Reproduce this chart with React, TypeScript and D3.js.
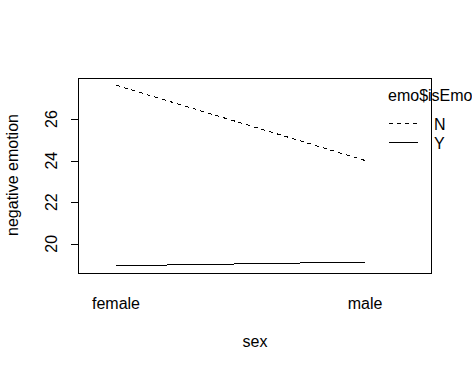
import React from "react";
import * as d3 from "d3";

const categories = ["female", "male"];
const seriesN = [27.63, 24.01];
const seriesY = [18.94, 19.12];
const yTicks = [20, 22, 24, 26];
const legendLabels = ["N", "Y"];

const W = 472;
const H = 371;
const box = { left: 78, right: 431, top: 78, bottom: 273 };
const font = "'Liberation Sans', Arial, sans-serif";

export default function App() {
  const all = [...seriesN, ...seriesY];
  const lo = d3.min(all) as number;
  const hi = d3.max(all) as number;
  const ext = (hi - lo) * 0.04;
  const y = d3.scaleLinear().domain([lo - ext, hi + ext]).range([box.bottom, box.top]);
  const x = d3.scaleLinear().domain([1, 2]).range([116, 365]);
  const line = d3
    .line<number>()
    .x((_, i) => x(i + 1))
    .y((d) => y(d));

  return (
    <svg width={W} height={H} style={{ position: "absolute", left: 0, top: 0, background: "#fff" }}>
      <rect x={0} y={0} width={W} height={H} fill="#fff" />
      <path d={line(seriesN) || ""} fill="none" stroke="#000" strokeWidth={1} strokeDasharray="4,4" shapeRendering="crispEdges" />
      <path d={line(seriesY) || ""} fill="none" stroke="#000" strokeWidth={1} shapeRendering="crispEdges" />
      <rect
        x={box.left + 0.5}
        y={box.top + 0.5}
        width={box.right - box.left}
        height={box.bottom - box.top}
        fill="none"
        stroke="#000"
        strokeWidth={1}
        shapeRendering="crispEdges"
      />
      {yTicks.map((t) => (
        <g key={t}>
          <line x1={box.left - 7} x2={box.left} y1={Math.round(y(t)) + 0.5} y2={Math.round(y(t)) + 0.5} stroke="#000" shapeRendering="crispEdges" />
          <text
            transform={`translate(56.5,${y(t)}) rotate(-90)`}
            textAnchor="middle"
            fontFamily={font}
            fontSize={16}
            fill="#000"
          >
            {t}
          </text>
        </g>
      ))}
      {categories.map((c, i) => (
        <text key={c} x={x(i + 1)} y={309} textAnchor="middle" fontFamily={font} fontSize={16} fill="#000">
          {c}
        </text>
      ))}
      <text x={255} y={347} textAnchor="middle" fontFamily={font} fontSize={16} fill="#000">
        sex
      </text>
      <text
        transform={`translate(18,175) rotate(-90)`}
        textAnchor="middle"
        fontFamily={font}
        fontSize={16}
        fill="#000"
      >
        negative emotion
      </text>
      <text x={388} y={101} fontFamily={font} fontSize={16} fill="#000">
        emo$isEmo
      </text>
      {legendLabels.map((l, i) => (
        <g key={l}>
          <line
            x1={389}
            x2={418}
            y1={123.5 + i * 19}
            y2={123.5 + i * 19}
            stroke="#000"
            strokeDasharray={i === 0 ? "4,4" : undefined}
            shapeRendering="crispEdges"
          />
          <text x={434} y={130 + i * 19} fontFamily={font} fontSize={16} fill="#000">
            {l}
          </text>
        </g>
      ))}
    </svg>
  );
}
